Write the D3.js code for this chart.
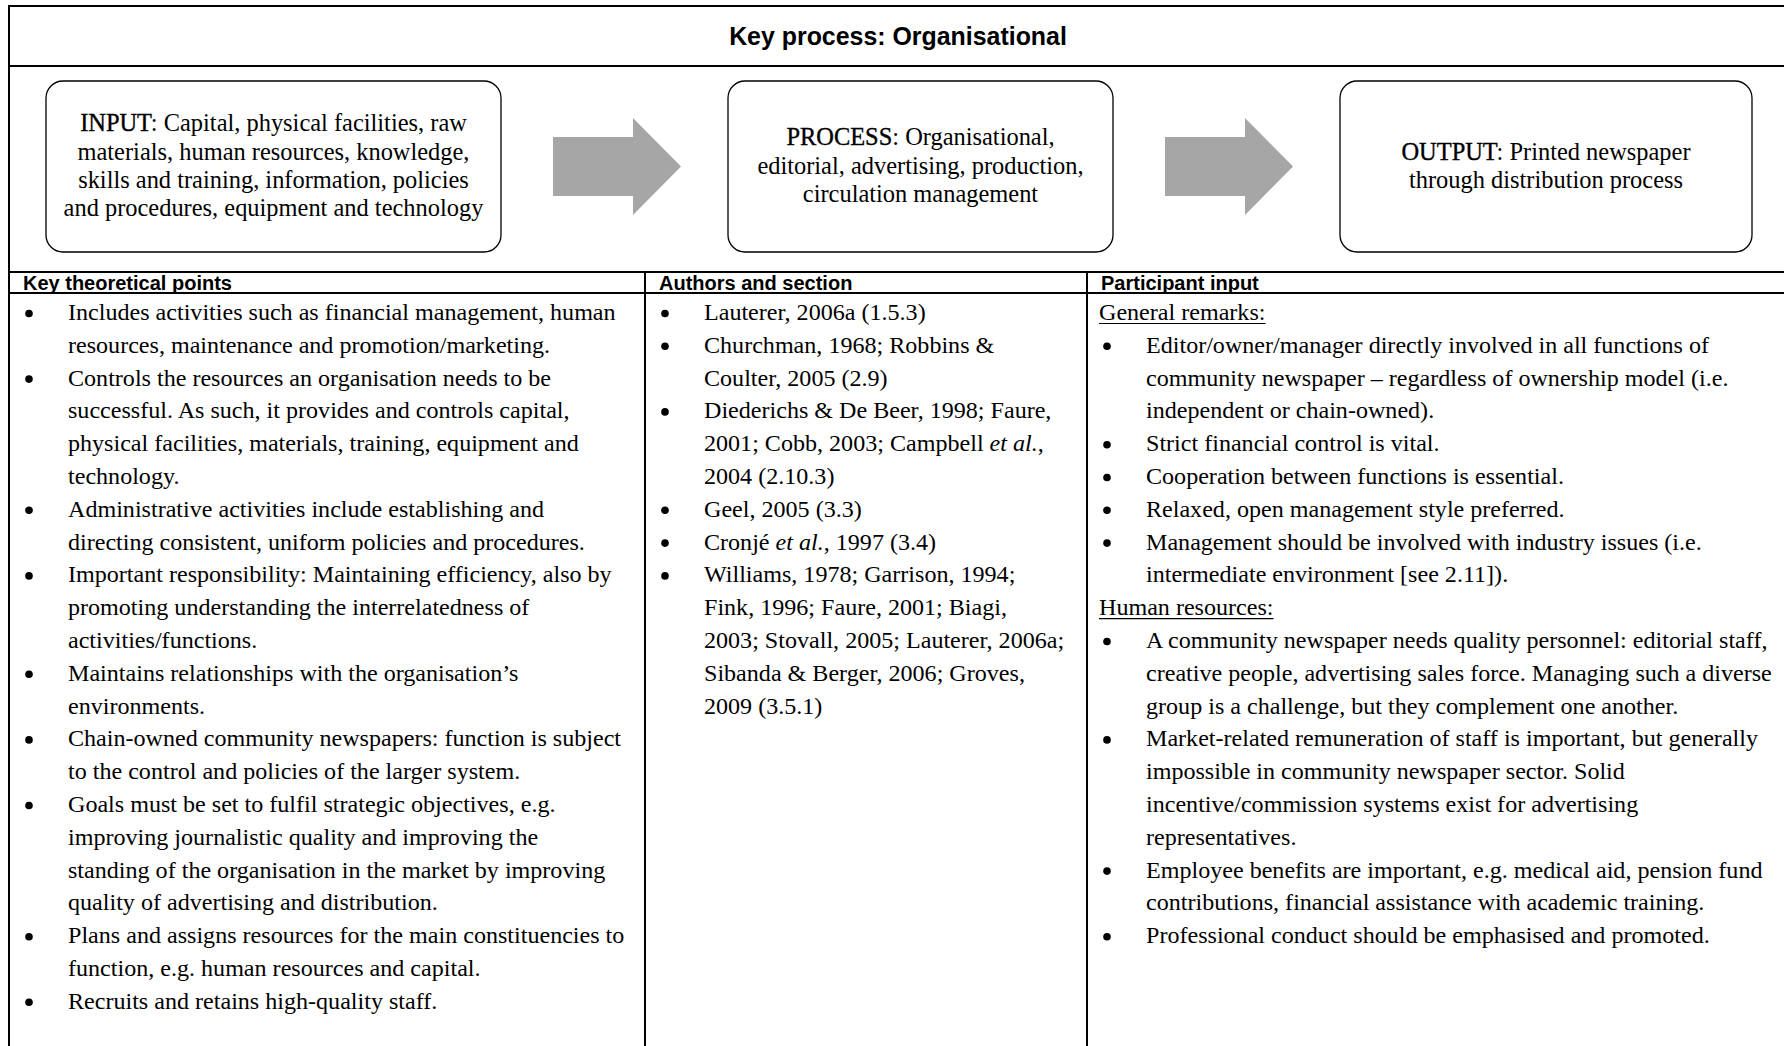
<!DOCTYPE html>
<html><head><meta charset="utf-8">
<script src="https://cdn.jsdelivr.net/npm/d3@7"></script>
<style>html,body{margin:0;padding:0;background:#fff;} svg{display:block}</style>
</head><body>
<script>
// ---------- DATA ----------
const title = "Key process: Organisational";
const boxLabels = ["INPUT", "PROCESS", "OUTPUT"];
const boxLines = [
  [": Capital, physical facilities, raw", "materials, human resources, knowledge,", "skills and training, information, policies", "and procedures, equipment and technology"],
  [": Organisational,", "editorial, advertising, production,", "circulation management"],
  [": Printed newspaper", "through distribution process"]
];
const columnHeaders = ["Key theoretical points", "Authors and section", "Participant input"];
const theoryPoints = [
  ["Includes activities such as financial management, human", "resources, maintenance and promotion/marketing."],
  ["Controls the resources an organisation needs to be", "successful. As such, it provides and controls capital,", "physical facilities, materials, training, equipment and", "technology."],
  ["Administrative activities include establishing and", "directing consistent, uniform policies and procedures."],
  ["Important responsibility: Maintaining efficiency, also by", "promoting understanding the interrelatedness of", "activities/functions."],
  ["Maintains relationships with the organisation\u2019s", "environments."],
  ["Chain-owned community newspapers: function is subject", "to the control and policies of the larger system."],
  ["Goals must be set to fulfil strategic objectives, e.g.", "improving journalistic quality and improving the", "standing of the organisation in the market by improving", "quality of advertising and distribution."],
  ["Plans and assigns resources for the main constituencies to", "function, e.g. human resources and capital."],
  ["Recruits and retains high-quality staff."]
];
const authorRefs = [
  ["Lauterer, 2006a (1.5.3)"],
  ["Churchman, 1968; Robbins &", "Coulter, 2005 (2.9)"],
  ["Diederichs & De Beer, 1998; Faure,", "2001; Cobb, 2003; Campbell _et al._,", "2004 (2.10.3)"],
  ["Geel, 2005 (3.3)"],
  ["Cronj\u00e9 _et al._, 1997 (3.4)"],
  ["Williams, 1978; Garrison, 1994;", "Fink, 1996; Faure, 2001; Biagi,", "2003; Stovall, 2005; Lauterer, 2006a;", "Sibanda & Berger, 2006; Groves,", "2009 (3.5.1)"]
];
const participantHeadings = ["General remarks:", "Human resources:"];
const participantPoints = [
  [
    ["Editor/owner/manager directly involved in all functions of", "community newspaper \u2013 regardless of ownership model (i.e.", "independent or chain-owned)."],
    ["Strict financial control is vital."],
    ["Cooperation between functions is essential."],
    ["Relaxed, open management style preferred."],
    ["Management should be involved with industry issues (i.e.", "intermediate environment [see 2.11])."]
  ],
  [
    ["A community newspaper needs quality personnel: editorial staff,", "creative people, advertising sales force. Managing such a diverse", "group is a challenge, but they complement one another."],
    ["Market-related remuneration of staff is important, but generally", "impossible in community newspaper sector. Solid", "incentive/commission systems exist for advertising", "representatives."],
    ["Employee benefits are important, e.g. medical aid, pension fund", "contributions, financial assistance with academic training."],
    ["Professional conduct should be emphasised and promoted."]
  ]
];

// ---------- LAYOUT ----------
const W = 1784, H = 1046;
const SERIF = "'Liberation Serif', 'Times New Roman', serif";
const SANS = "'Liberation Sans', Arial, sans-serif";
const frame = {left: 9, top: 6, titleBottom: 66, diagBottom: 272, headBottom: 293};
const colEdges = [9, 645, 1087];
const boxes = [{x0: 46, x1: 501}, {x0: 728, x1: 1113}, {x0: 1340, x1: 1752}];
const boxY0 = 81, boxY1 = 252;

const svg = d3.select("body").append("svg").attr("width", W).attr("height", H);
svg.append("rect").attr("width", W).attr("height", H).attr("fill", "#fff");

// font calibration helper
function fit(text, family, weight, target) {
  const t = svg.append("text").attr("font-family", family).attr("font-weight", weight)
    .attr("font-size", 20).text(text);
  const w = t.node().getComputedTextLength();
  t.remove();
  return 20 * target / w;
}
const titleSize = fit(title, SANS, "bold", 338);
const headSize = fit(columnHeaders[0], SANS, "bold", 209);
const bodySize = fit(theoryPoints[0][0], SERIF, "normal", 548);
const boxSize = fit(boxLines[0][3], SERIF, "normal", 420);

// ---------- FRAME LINES ----------
const g = svg.append("g").attr("stroke", "#000").attr("stroke-width", 2).attr("fill", "none");
const hLines = [frame.top, frame.titleBottom, frame.diagBottom, frame.headBottom];
g.selectAll("line.h").data(hLines).join("line")
  .attr("x1", frame.left - 1).attr("x2", W).attr("y1", d => d).attr("y2", d => d);
g.append("line").attr("x1", frame.left).attr("x2", frame.left).attr("y1", frame.top - 1).attr("y2", H);
g.selectAll("line.v").data(colEdges.slice(1)).join("line")
  .attr("x1", d => d).attr("x2", d => d).attr("y1", frame.diagBottom).attr("y2", H);

// ---------- TITLE ----------
svg.append("text").attr("x", 898).attr("y", 36 + titleSize * 0.36)
  .attr("text-anchor", "middle").attr("font-family", SANS).attr("font-weight", "bold")
  .attr("font-size", titleSize).text(title);

// ---------- BOXES ----------
const boxCy = (boxY0 + boxY1) / 2;
svg.selectAll("rect.box").data(boxes).join("rect")
  .attr("x", d => d.x0).attr("y", boxY0).attr("width", d => d.x1 - d.x0).attr("height", boxY1 - boxY0)
  .attr("rx", 17).attr("fill", "#fff").attr("stroke", "#000").attr("stroke-width", 1.3);

const boxStep = 28.4;
boxes.forEach((b, i) => {
  const lines = boxLines[i];
  const cx = (b.x0 + b.x1) / 2;
  const yL = d3.scaleLinear().domain([0, 1]).range([boxCy - (lines.length - 1) / 2 * boxStep, boxCy - (lines.length - 1) / 2 * boxStep + boxStep]);
  const t = svg.append("g").attr("font-family", SERIF).attr("font-size", boxSize).attr("text-anchor", "middle");
  lines.forEach((ln, j) => {
    const txt = t.append("text").attr("x", cx).attr("y", yL(j) + boxSize * 0.3);
    if (j === 0) {
      txt.append("tspan").attr("stroke", "#000").attr("stroke-width", 0.35).text(boxLabels[i]);
    }
    txt.append("tspan").text(ln);
  });
});

// ---------- ARROWS ----------
const arrows = d3.range(boxes.length - 1).map(i => ({x0: boxes[i].x1 + 52, x1: boxes[i + 1].x0 - 47}));
const aBody = 29.5, aHead = 48.5, aLen = 48;
svg.selectAll("path.arrow").data(arrows).join("path")
  .attr("fill", "#a6a6a6")
  .attr("d", d => {
    const hx = d.x1 - aLen;
    return `M${d.x0},${boxCy - aBody}L${hx},${boxCy - aBody}L${hx},${boxCy - aHead}L${d.x1},${boxCy}L${hx},${boxCy + aHead}L${hx},${boxCy + aBody}L${d.x0},${boxCy + aBody}Z`;
  });

// ---------- HEADERS ----------
svg.selectAll("text.head").data(columnHeaders).join("text")
  .attr("x", (d, i) => colEdges[i] + 14).attr("y", (frame.diagBottom + frame.headBottom) / 2 + headSize * 0.36)
  .attr("font-family", SANS).attr("font-weight", "bold").attr("font-size", headSize).text(d => d);

// ---------- BODY ROWS ----------
const rowY = d3.scaleLinear().domain([0, 1]).range([320, 352.8]);
function flatten(points) {
  const rows = [];
  points.forEach(p => p.forEach((ln, k) => rows.push({text: ln, bullet: k === 0})));
  return rows;
}
const col1Rows = flatten(theoryPoints);
const col2Rows = flatten(authorRefs);
const col3Rows = [];
participantHeadings.forEach((h, i) => {
  col3Rows.push({text: h, heading: true});
  flatten(participantPoints[i]).forEach(r => col3Rows.push(r));
});
const columns = [col1Rows, col2Rows, col3Rows];

columns.forEach((rows, ci) => {
  const x0 = colEdges[ci];
  const cg = svg.append("g").attr("font-family", SERIF).attr("font-size", bodySize);
  rows.forEach((r, ri) => {
    const y = rowY(ri);
    if (r.heading) {
      const t = cg.append("text").attr("x", x0 + 12).attr("y", y).text(r.text);
      const w = t.node().getComputedTextLength();
      cg.append("line").attr("x1", x0 + 12).attr("x2", x0 + 12 + w)
        .attr("y1", y + 3.5).attr("y2", y + 3.5).attr("stroke", "#000").attr("stroke-width", 1.2);
      return;
    }
    if (r.bullet) {
      cg.append("circle").attr("cx", x0 + 20).attr("cy", y - bodySize * 0.27).attr("r", 3.8).attr("fill", "#000");
    }
    const t = cg.append("text").attr("x", x0 + 59).attr("y", y);
    r.text.split("_").forEach((seg, k) => {
      if (seg.length) t.append("tspan").attr("font-style", k % 2 ? "italic" : "normal").text(seg);
    });
  });
});
</script>
</body></html>
